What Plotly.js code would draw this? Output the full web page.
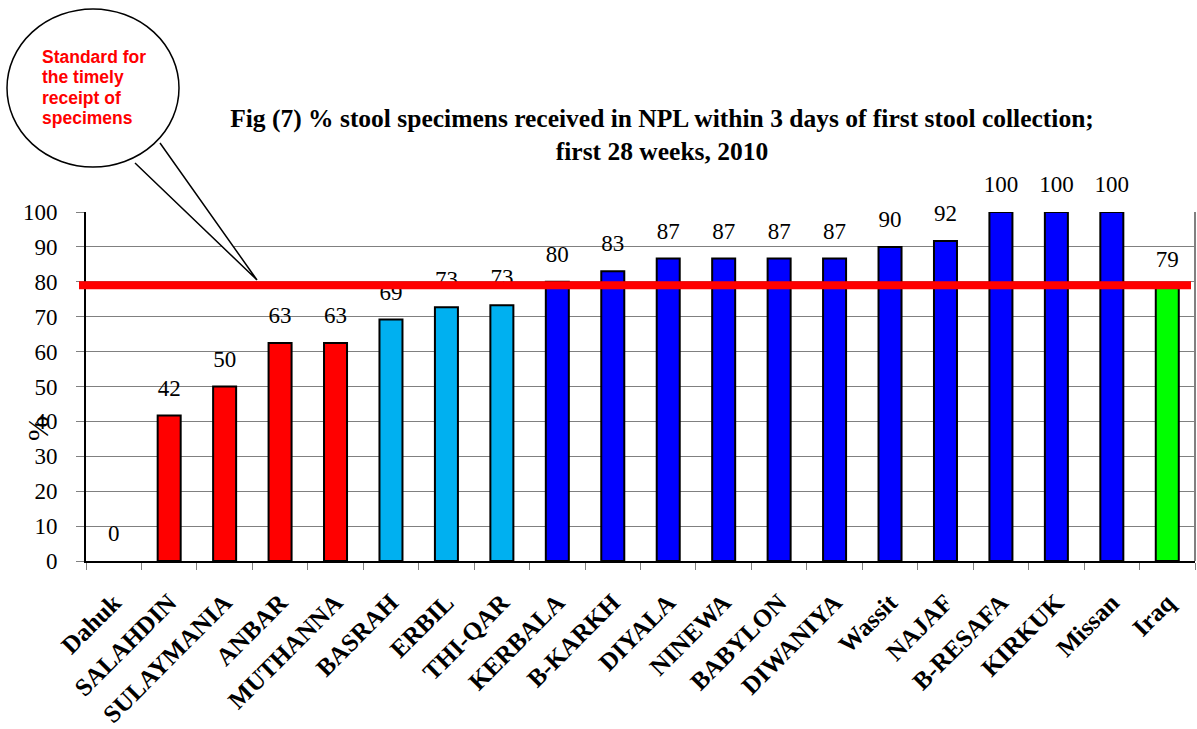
<!DOCTYPE html>
<html>
<head>
<meta charset="utf-8">
<script src="https://cdn.plot.ly/plotly-3.0.1.min.js"></script>
<style>html,body{margin:0;padding:0;background:#fff;}#chart{width:1197px;height:729px;}</style>
</head>
<body>
<div id="chart"></div>
<script>
// ---- data ----
const categories = ['Dahuk','SALAHDIN','SULAYMANIA','ANBAR','MUTHANNA','BASRAH','ERBIL','THI-QAR','KERBALA','B-KARKH','DIYALA','NINEWA','BABYLON','DIWANIYA','Wassit','NAJAF','B-RESAFA','KIRKUK','Missan','Iraq'];
const percentValues = [0, 41.7, 50, 62.5, 62.5, 69.2, 72.7, 73.3, 80, 83, 86.7, 86.7, 86.7, 86.7, 90, 91.7, 100, 100, 100, 78.6];
const valueLabels = ['0','42','50','63','63','69','73','73','80','83','87','87','87','87','90','92','100','100','100','79'];
const standardValue = 79;
const yTickValues = [0,10,20,30,40,50,60,70,80,90,100];
const calloutLines = ['Standard for','the timely','receipt of','specimens'];
const titleText = 'Fig (7) % stool specimens received in NPL within 3 days of first stool collection;<br>first 28 weeks, 2010';

// ---- styles ----
const RED = '#FF0000', SKY = '#00B0F0', BLUE = '#0000FF', GREEN = '#00FF00';
const barColors = [RED, RED, RED, RED, RED, SKY, SKY, SKY, BLUE, BLUE, BLUE, BLUE, BLUE, BLUE, BLUE, BLUE, BLUE, BLUE, BLUE, GREEN];
const SERIF = 'Liberation Serif, serif';
const SANS = 'Liberation Sans, sans-serif';

// pixel helpers (plot area: left 86, right 1195, top 212, bottom 561)
const PL = 86, PR = 1195, PT = 212, PB = 561;
const px = x => (x - PL) / (PR - PL);
const py = y => (PB - y) / (PB - PT);

const bars = {
  type: 'bar',
  x: categories,
  y: percentValues,
  marker: {color: barColors, line: {color: '#000', width: percentValues.map(v => v > 0 ? 2 : 0)}},
  hoverinfo: 'x+y'
};

const labels = {
  type: 'scatter',
  mode: 'markers+text',
  x: categories,
  y: percentValues,
  text: valueLabels,
  textposition: 'top center',
  textfont: {family: SERIF, size: 23, color: '#000'},
  marker: {size: 21, opacity: 0},
  cliponaxis: false,
  hoverinfo: 'skip',
  showlegend: false
};

const shapes = [
  {type: 'line', xref: 'paper', yref: 'y', x0: px(79), x1: px(1191), y0: standardValue, y1: standardValue,
   line: {color: RED, width: 8}, layer: 'above'},
  {type: 'line', xref: 'paper', yref: 'paper', x0: 1, x1: 1, y0: 0, y1: 1, line: {color: '#808080', width: 2}, layer: 'below'},
  {type: 'circle', xref: 'paper', yref: 'paper', x0: px(7), x1: px(179), y0: py(167), y1: py(9),
   line: {color: '#000', width: 1.5}, fillcolor: '#fff', layer: 'above'},
  {type: 'path', xref: 'paper', yref: 'paper',
   path: `M ${px(160)} ${py(143)} L ${px(257)} ${py(280)} L ${px(135)} ${py(163)}`,
   line: {color: '#000', width: 1.5}, fillcolor: '#fff', layer: 'above'}
];

const annotations = [
  {xref: 'paper', yref: 'paper', x: px(37), y: py(429), text: '%', textangle: -90, showarrow: false,
   font: {family: SERIF, size: 30, color: '#000'}, xanchor: 'center', yanchor: 'middle'}
];
const calloutY = [57, 77, 98, 118];
calloutLines.forEach((t, i) => {
  annotations.push({xref: 'paper', yref: 'paper', x: px(40), y: py(calloutY[i]), text: '<b>' + t + '</b>',
    showarrow: false, xanchor: 'left', yanchor: 'middle', font: {family: SANS, size: 17.5, color: RED}});
});

const layout = {
  width: 1197, height: 729,
  margin: {l: PL, r: 1197 - PR, t: PT, b: 729 - PB, pad: 0},
  paper_bgcolor: '#fff', plot_bgcolor: '#fff',
  showlegend: false,
  bargap: 0.585,
  title: {text: '<b>' + titleText + '</b>', xref: 'container', yref: 'container',
    x: 662 / 1197, y: 1 - 127 / 729, xanchor: 'center', yanchor: 'middle',
    font: {family: SERIF, size: 25.5, color: '#000'}},
  xaxis: {
    type: 'category',
    range: [-0.5, categories.length - 0.5],
    tickangle: -45,
    tickfont: {family: SERIF, size: 25, color: '#000', weight: 'bold'},
    showline: true, linecolor: '#000', linewidth: 2,
    ticks: 'outside', tickson: 'boundaries', ticklen: 7, tickcolor: '#808080', tickwidth: 1,
    showgrid: false, zeroline: false,
    ticklabelstandoff: 15
  },
  yaxis: {
    range: [0, 100],
    tickvals: yTickValues,
    tickfont: {family: SERIF, size: 23, color: '#000'},
    showline: true, linecolor: '#000', linewidth: 2,
    ticks: 'outside', ticklen: 8, tickcolor: '#808080', tickwidth: 1,
    showgrid: true, gridcolor: '#808080', gridwidth: 1,
    zeroline: false,
    ticklabelstandoff: 14
  },
  shapes: shapes,
  annotations: annotations
};

Plotly.newPlot('chart', [bars, labels], layout, {displayModeBar: false, staticPlot: true});
</script>
</body>
</html>
